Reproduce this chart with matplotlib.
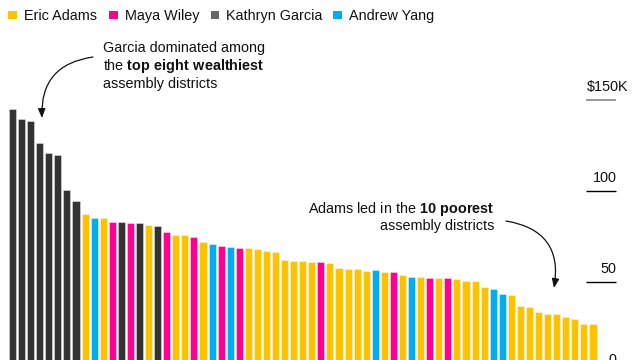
import matplotlib
matplotlib.use("Agg")
import matplotlib.pyplot as plt
import matplotlib.patches as mpatches

plt.rcParams['font.family'] = ['Liberation Sans', 'DejaVu Sans']
plt.rcParams['mathtext.fontset'] = 'custom'
plt.rcParams['mathtext.rm'] = 'Liberation Sans'
plt.rcParams['mathtext.bf'] = 'Liberation Sans:bold'

# median household income per assembly district ($K), richest -> poorest
income = [144.9, 139.5, 138.2, 126.1, 120.6, 119.5, 100.3, 94.2,
          87.2, 85.2, 85.2, 83.0, 83.0, 82.1, 82.1, 81.2, 80.6, 77.3,
          75.7, 75.7, 74.4, 72.0, 70.9, 69.6, 69.2, 68.7, 68.7, 68.0,
          66.9, 66.3, 61.9, 61.5, 61.2, 60.8, 60.8, 60.3, 57.5, 56.8,
          56.8, 56.0, 56.2, 55.5, 55.3, 53.7, 52.6, 52.6, 52.0, 51.8,
          51.8, 51.5, 50.5, 50.2, 47.1, 46.0, 43.4, 42.5, 36.6, 35.9,
          33.3, 32.4, 32.1, 30.3, 29.3, 26.8, 26.8]
# winner: A = Adams, W = Wiley, G = Garcia, Y = Yang
winner = list("GGGGGGGG" "AYAWGWGAGWAAWAYWYW" "AAAAAAAA" "W" "AAAAA"
              "YAWAYAWAWAAAA" "YY" "AAAAAAAAAA")

candidates = ["Eric Adams", "Maya Wiley", "Kathryn Garcia", "Andrew Yang"]
keys = ["A", "W", "G", "Y"]
bar_colors = {"A": "#FFC200", "W": "#FF0090", "G": "#333333", "Y": "#00ADEF"}
legend_colors = ["#FFC200", "#FF0090", "#666666", "#00ADEF"]

ticks = [0, 50, 100, 150]
tick_labels = ["0", "50", "100", "$150K"]

W, H = 634, 360
fig = plt.figure(figsize=(W / 100, H / 100), dpi=100)
# zero line sits just below the bottom edge, as in the original
ax = fig.add_axes([0, -12.5 / H, 1, 372.5 / H])
ax.axis("off")

step = 9.07
x0 = -12.5 / step
ax.set_xlim(x0, x0 + W / step)
ax.set_ylim(0, 205)

xs = range(len(income))
ax.bar(xs, income, width=0.78, color=[bar_colors[w] for w in winner],
       edgecolor=(1, 1, 1, 0.45), linewidth=0.6)

# right side scale: short lines with labels on top
def px2x(px):
    return x0 + px / step

for t, lab in zip(ticks, tick_labels):
    col = "#888888" if t == 150 else "black"
    ax.plot([px2x(586), px2x(616)], [t, t], color=col, lw=1.2 if t == 150 else 1.0,
            solid_capstyle="butt", clip_on=False)
    if lab.startswith("$"):
        ax.annotate(lab, (px2x(586.5), t), xytext=(0, 6.3), textcoords="offset points",
                    ha="left", va="baseline", fontsize=10.4, color="#111111")
    else:
        ax.annotate(lab, (px2x(616.5), t), xytext=(0, 6.3), textcoords="offset points",
                    ha="right", va="baseline", fontsize=10.4, color="#111111")

# legend
sq_x = [8.3, 109.3, 210.7, 333.3]
txt_x = [24.3, 125.3, 226, 349.3]
for name, c, sx, tx in zip(candidates, legend_colors, sq_x, txt_x):
    fig.add_artist(mpatches.Rectangle((sx / W, (H - 19.3) / H), 8.5 / W, 8.5 / H,
                                      transform=fig.transFigure, color=c, lw=0))
    fig.text(tx / W, (H - 20) / H, name, fontsize=10.4, va="baseline", color="#111111")

# annotations
fs = 10.4
lines1 = ["Garcia dominated among", r"the $\mathbf{top\ eight\ wealthiest}$", "assembly districts"]
for i, s in enumerate(lines1):
    fig.text(103.3 / W, (H - 51.7 - 18 * i) / H, s, fontsize=fs, va="baseline", color="#111111")

lines2 = [r"Adams led in the $\mathbf{10\ poorest}$", "assembly districts"]
for i, s in enumerate(lines2):
    fig.text(494.5 / W, (H - 213.3 - 17 * i) / H, s, fontsize=fs, va="baseline",
             ha="right", color="#111111")

arrow = dict(arrowstyle="-|>,head_length=0.55,head_width=0.22", color="#111111", lw=0.9,
             shrinkA=0, shrinkB=0)
ax.annotate("", xy=(42, H - 118), xycoords="figure pixels",
            xytext=(93, H - 57), textcoords="figure pixels",
            arrowprops=dict(arrow, connectionstyle="arc3,rad=0.45"))
ax.annotate("", xy=(554, H - 288), xycoords="figure pixels",
            xytext=(506, H - 221), textcoords="figure pixels",
            arrowprops=dict(arrow, connectionstyle="arc3,rad=-0.5"))

fig.savefig("out.png", dpi=100)
